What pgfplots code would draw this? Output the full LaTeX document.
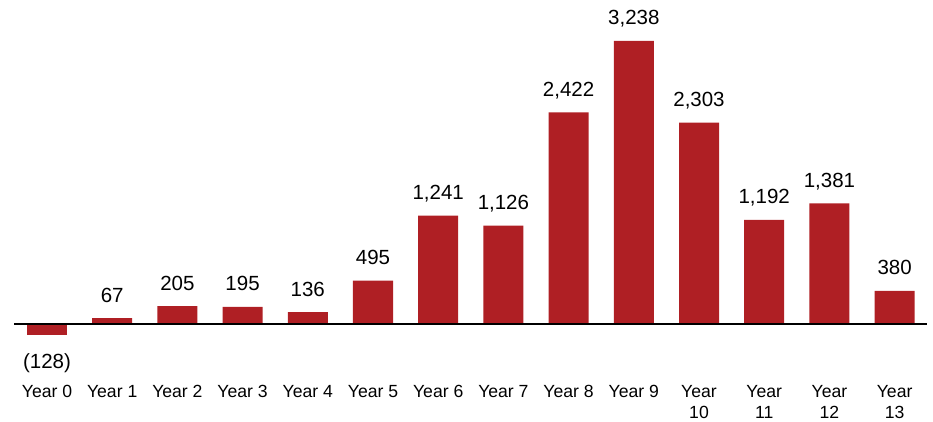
\documentclass[border=0pt]{standalone}
\usepackage{fontspec}
\setmainfont{Liberation Sans}
\usepackage{pgfplots}
\pgfplotsset{compat=1.18}
\definecolor{barred}{HTML}{AF1F24}
\begin{document}
\fontsize{17.6}{21}\selectfont
\begin{tikzpicture}[x=1pt,y=1pt]
\useasboundingbox (0,0) rectangle (933,421);
\begin{axis}[
  at={(14pt,41pt)}, anchor=south west,
  scale only axis, width=913pt, height=380pt,
  xmin=-0.506, xmax=13.497, ymin=-640.7, ymax=3707,
  axis line style={draw=none}, tick style={draw=none},
  ytick=\empty, xtick={0,...,13},
  xticklabels={Year 0,Year 1,Year 2,Year 3,Year 4,Year 5,Year 6,Year 7,Year 8,Year 9,{Year\\10},{Year\\11},{Year\\12},{Year\\13}},
  xticklabel style={align=center, anchor=north, inner sep=0pt, yshift=-0.5pt, font=\fontsize{17.6}{21}\selectfont},
  ybar, bar width=40pt, bar shift=0pt,
  /pgf/number format/assume math mode=true,
  /pgf/number format/1000 sep={,},
  clip=false,
]
\addplot[fill=barred, draw=none, nodes near coords,
  every node near coord/.append style={anchor=base, inner sep=0pt, yshift=16pt, font=\fontsize{20.5}{24}\selectfont, text=black}]
  coordinates {(1,67) (2,205) (3,195) (4,136) (5,495) (6,1241) (7,1126) (8,2422) (9,3238) (10,2303) (11,1192) (12,1381) (13,380)};
\addplot[fill=barred, draw=none, nodes near coords={(128)},
  every node near coord/.append style={anchor=base, inner sep=0pt, yshift=-33.5pt, font=\fontsize{20.5}{24}\selectfont, text=black}]
  coordinates {(0,-128)};
\addplot[sharp plot, black, line width=1.5pt, no marks] coordinates {(-0.506,0) (13.497,0)};
\end{axis}
\end{tikzpicture}
\end{document}
